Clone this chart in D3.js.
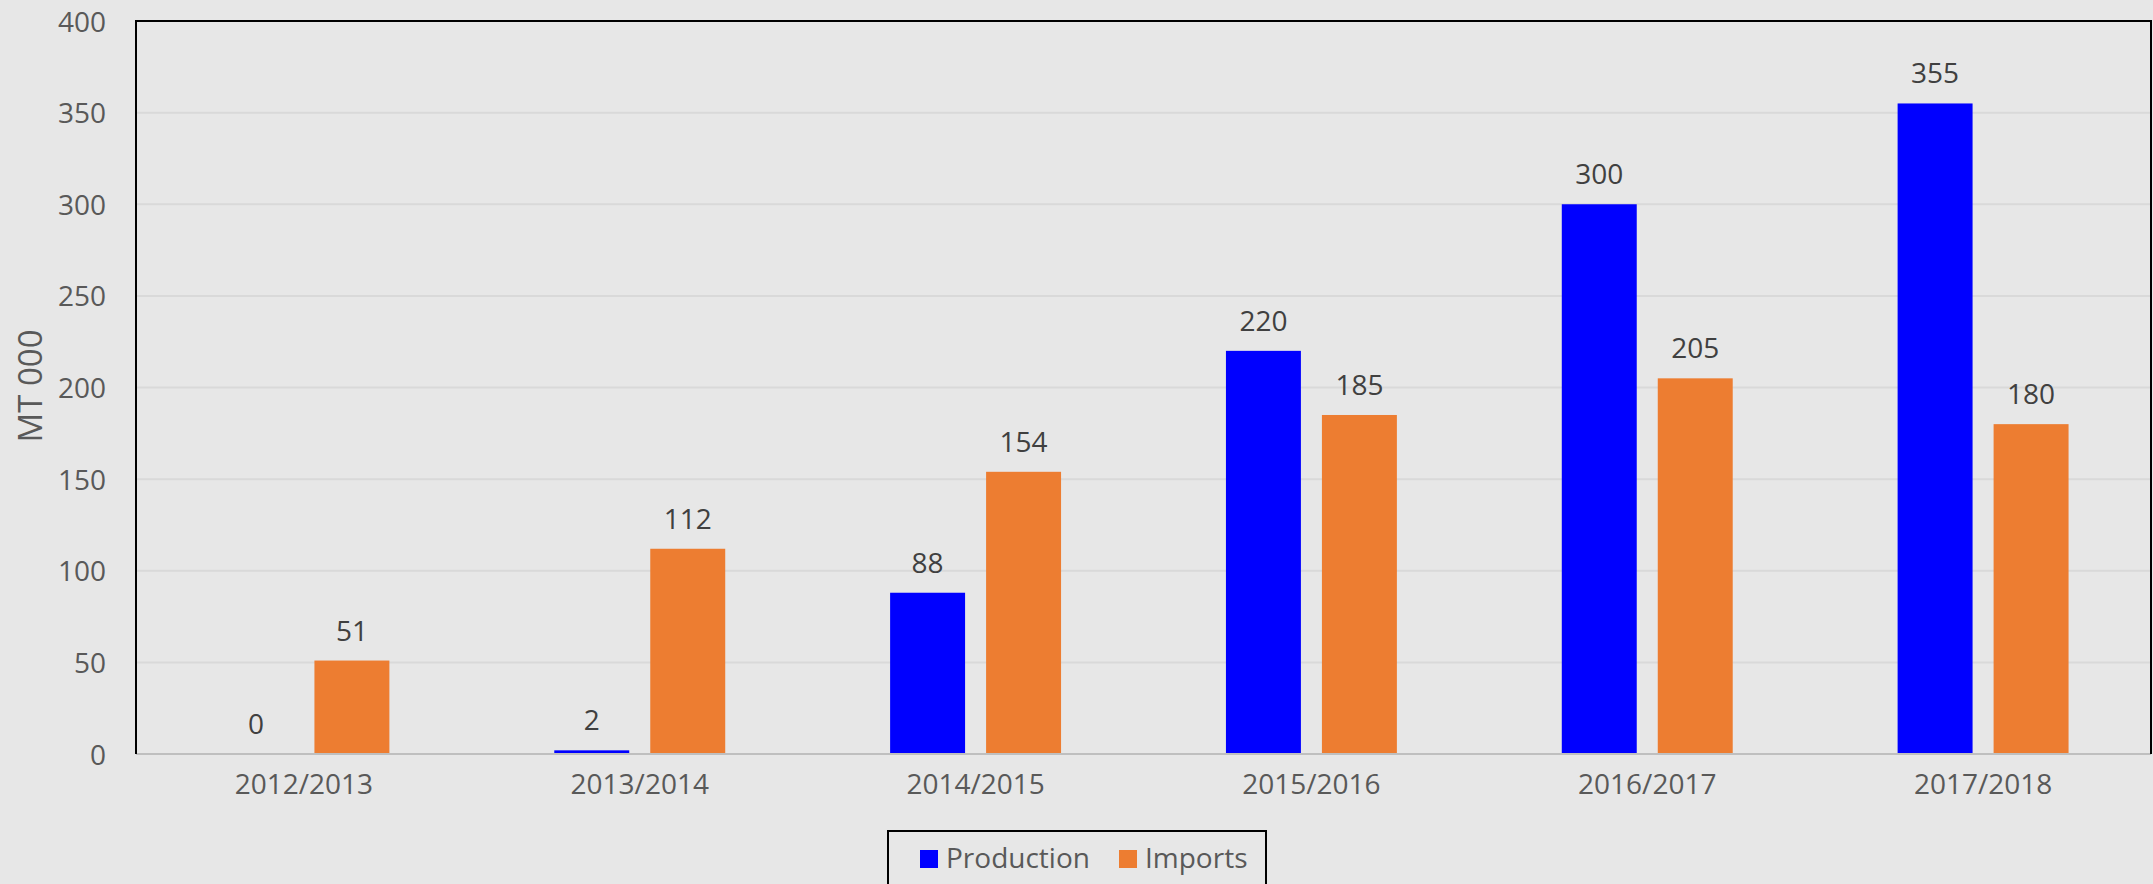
<!DOCTYPE html>
<html><head><meta charset="utf-8">
<script src="https://cdn.jsdelivr.net/npm/d3@7"></script>
<style>
html,body{margin:0;padding:0;background:#e7e7e7;}
svg{display:block;}
text{font-family:"Open Sans",sans-serif;}
</style></head>
<body>
<script>
const categories = ["2012/2013","2013/2014","2014/2015","2015/2016","2016/2017","2017/2018"];
const seriesNames = ["Production","Imports"];
const production = [0, 2, 88, 220, 300, 355];
const imports = [51, 112, 154, 185, 205, 180];
const yTicks = [0,50,100,150,200,250,300,350,400];
const colors = {"Production":"#0000ff","Imports":"#ed7d31"};

const W = 2153, H = 884;
const L = 136, R = 2151, T = 21, B = 754;
const svg = d3.select("body").append("svg").attr("width", W).attr("height", H);
svg.append("rect").attr("width", W).attr("height", H).attr("fill", "#e7e7e7");

const x0 = d3.scaleBand().domain(categories).range([L, R]).paddingInner(0.491).paddingOuter(0.2455);
const x1 = d3.scaleBand().domain(seriesNames).range([0, x0.bandwidth()]).paddingInner(0.219).paddingOuter(0);
const y = d3.scaleLinear().domain([0, 400]).range([B, T]);

// gridlines
svg.append("g").selectAll("line").data(yTicks.filter(d => d > 0 && d < 400)).join("line")
  .attr("x1", L).attr("x2", R).attr("y1", d => y(d)).attr("y2", d => y(d))
  .attr("stroke", "#d9d9d9").attr("stroke-width", 2);

// y axis labels
const yAxis = d3.axisLeft(y).tickValues(yTicks).tickSize(0).tickPadding(30);
const gy = svg.append("g").attr("transform", `translate(${L},0)`).call(yAxis);
gy.select(".domain").remove();
gy.selectAll("text").attr("font-size", 28).attr("fill", "#595959").attr("font-family", "Open Sans").attr("dy", "0.36em");

// bars
const rows = categories.map((c, i) => ({cat: c, vals: [{s: "Production", v: production[i]}, {s: "Imports", v: imports[i]}]}));
const g = svg.append("g").selectAll("g").data(rows).join("g")
  .attr("transform", d => `translate(${x0(d.cat)},0)`);
g.selectAll("rect").data(d => d.vals).join("rect")
  .attr("x", d => x1(d.s)).attr("width", x1.bandwidth())
  .attr("y", d => y(d.v)).attr("height", d => B - y(d.v))
  .attr("fill", d => colors[d.s]);
g.selectAll("text").data(d => d.vals).join("text")
  .attr("x", d => x1(d.s) + x1.bandwidth() / 2).attr("y", d => y(d.v) - 20)
  .attr("text-anchor", "middle").attr("font-size", 28).attr("fill", "#404040")
  .text(d => d.v);

// x axis
const xAxis = d3.axisBottom(x0).tickSize(0).tickPadding(20);
const gx = svg.append("g").attr("transform", `translate(0,${B})`).call(xAxis);
gx.select(".domain").remove();
gx.selectAll("text").attr("font-size", 28).attr("fill", "#595959").attr("font-family", "Open Sans").attr("dy", "0.71em");

// borders
svg.append("line").attr("x1", L).attr("x2", R).attr("y1", B).attr("y2", B).attr("stroke", "#bfbfbf").attr("stroke-width", 2);
svg.append("path").attr("d", `M${L},${B}V${T}H${R}V${B}`).attr("fill", "none").attr("stroke", "#000").attr("stroke-width", 2);

// y title
svg.append("text").attr("transform", `translate(42,386) rotate(-90)`)
  .attr("text-anchor", "middle").attr("font-size", 33).attr("fill", "#595959").text("MT 000");

// legend
const lg = svg.append("g");
lg.append("rect").attr("x", 888).attr("y", 831).attr("width", 378).attr("height", 70)
  .attr("fill", "none").attr("stroke", "#000").attr("stroke-width", 2);
const legendX = [920, 1119];
seriesNames.forEach((s, i) => {
  lg.append("rect").attr("x", legendX[i]).attr("y", 850).attr("width", 18).attr("height", 18).attr("fill", colors[s]);
  lg.append("text").attr("x", legendX[i] + 26).attr("y", 868).attr("font-size", 28).attr("fill", "#595959").text(s);
});
</script>
</body></html>
